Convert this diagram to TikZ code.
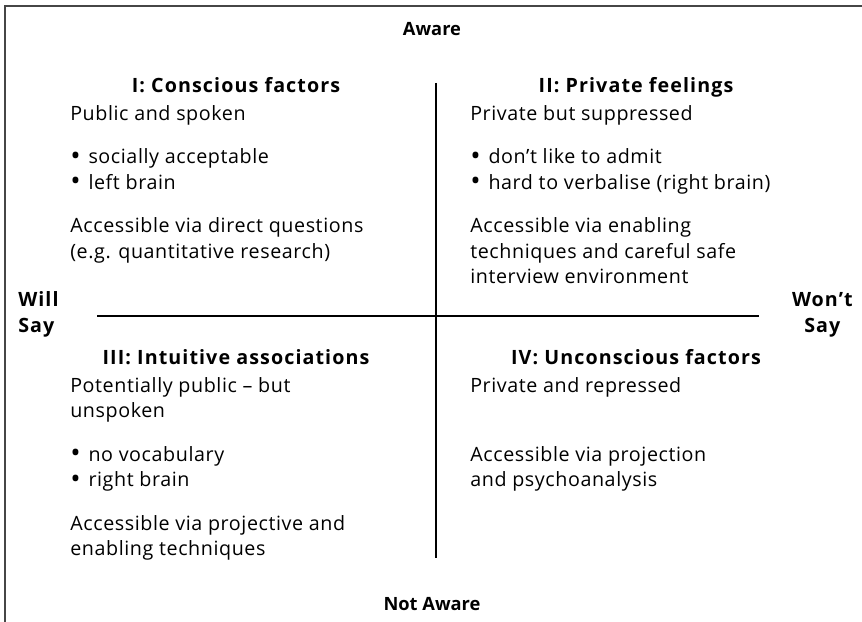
\documentclass[tikz,border=0pt]{standalone}
\usepackage{fontspec}
\setmainfont{Open Sans}[LetterSpace=3, BoldFeatures={LetterSpace=5.5}]
\newfontfamily\edgefont{Open Sans}
\usepackage{graphicx}
\usepackage{xcolor}
\usepackage{tikz}
\definecolor{framegrey}{RGB}{70,70,70}
\usetikzlibrary{positioning}

\newcommand{\itm}[1]{\raisebox{-0.15ex}{\scalebox{1.4}{\textbullet}}\hspace{0.4em}#1}

\begin{document}
\begin{tikzpicture}[
    x=0.025cm, y=-0.025cm,
    every node/.style={inner sep=0pt, font=\fontsize{14}{18.1}\selectfont},
    heading/.style={anchor=base, font=\fontsize{14}{18.5}\selectfont\bfseries},
    edgelabel/.style={anchor=base, font=\edgefont\fontsize{13}{18}\selectfont\bfseries},
    body/.style={anchor=north west, align=left},
    axis/.style={line width=0.8pt}
]

\clip (0,0) rectangle (862,622);

% open frame, only top and left edge visible
\draw[framegrey, line width=1.2pt] (5,640) |- (900,6);

% axis labels
\node[edgelabel] (aware) at (432,36) {Aware};
\node[edgelabel] (notaware) at (432,610) {Not Aware};
\node[heading, anchor=base west, align=left] (willsay) at (18,333) {Will\\Say};
\node[heading, anchor=base east, align=center] (wontsay) at (853,333) {Won’t\\Say};

% the two axes
\coordinate (vtop) at (436,83);
\coordinate (vbot) at (436,558);
\coordinate (hleft) at (97,316);
\coordinate (hright) at (759,316);
\draw[axis] (vtop) -- (vbot);
\draw[axis] (hleft) -- (hright);

% quadrant I
\node[heading] (titleI) at (236,93) {I: Conscious factors};
\node[body] (textI) at (70,105) {Public and spoken\\[12.8pt]
    \itm{socially acceptable}\\
    \itm{left brain}\\[12.8pt]
    Accessible via direct questions\\
    (e.g. quantitative research)};

% quadrant II
\node[heading] (titleII) at (636,93) {II: Private feelings};
\node[body] (textII) at (470,105) {Private but suppressed\\[12.8pt]
    \itm{don’t like to admit}\\
    \itm{hard to verbalise (right brain)}\\[12.8pt]
    Accessible via enabling\\
    techniques and careful safe\\
    interview environment};

% quadrant III
\node[heading] (titleIII) at (236,365) {III: Intuitive associations};
\node[body] (textIII) at (70,377) {Potentially public -- but\\
    unspoken\\[12.8pt]
    \itm{no vocabulary}\\
    \itm{right brain}\\[12.8pt]
    Accessible via projective and\\
    enabling techniques};

% quadrant IV
\node[heading] (titleIV) at (636,365) {IV: Unconscious factors};
\node[body] (textIV) at (470,377) {Private and repressed\\[12.8pt]
    \\
    Accessible via projection\\
    and psychoanalysis};

\end{tikzpicture}
\end{document}
